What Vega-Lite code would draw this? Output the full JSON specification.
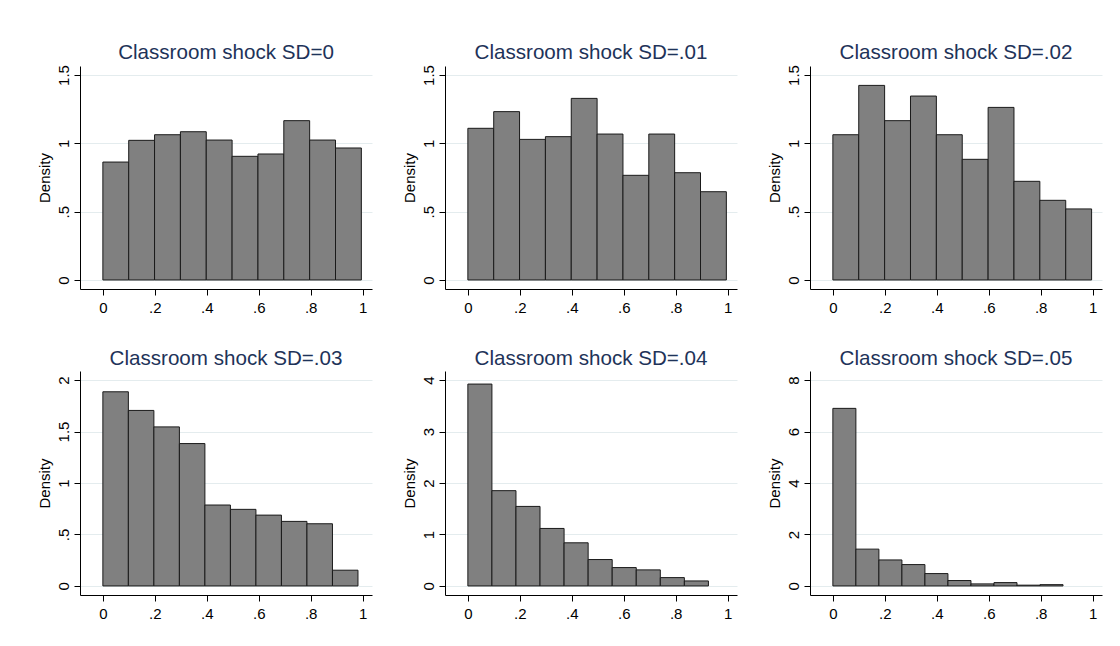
{
  "$schema": "https://vega.github.io/schema/vega-lite/v6.json",
  "background": "white",
  "padding": {"left": 36, "top": 42, "right": 5, "bottom": 5},
  "spacing": {"row": 34, "column": 29},
  "config": {
    "font": "Liberation Sans",
    "view": {"stroke": null},
    "axis": {
      "domainColor": "black", "tickColor": "black", "labelColor": "black",
      "labelFont": "Liberation Sans", "labelFontSize": 15, "titleFont": "Liberation Sans",
      "titleFontSize": 15, "titleFontWeight": "normal", "titleColor": "black",
      "tickSize": 6, "domainWidth": 1, "tickWidth": 1, "grid": false
    },
    "title": {"font": "Liberation Sans", "fontSize": 20.6, "fontWeight": "normal", "color": "#1e3359", "anchor": "middle", "offset": 1}
  },
  "datasets": {
    "h": [
      {"sd": "0", "x0": 0, "x1": 0.0995, "density": 0.863},
      {"sd": "0", "x0": 0.0995, "x1": 0.199, "density": 1.022},
      {"sd": "0", "x0": 0.199, "x1": 0.2985, "density": 1.063},
      {"sd": "0", "x0": 0.2985, "x1": 0.398, "density": 1.085},
      {"sd": "0", "x0": 0.398, "x1": 0.4975, "density": 1.024},
      {"sd": "0", "x0": 0.4975, "x1": 0.597, "density": 0.905},
      {"sd": "0", "x0": 0.597, "x1": 0.6965, "density": 0.922},
      {"sd": "0", "x0": 0.6965, "x1": 0.796, "density": 1.166},
      {"sd": "0", "x0": 0.796, "x1": 0.8955, "density": 1.024},
      {"sd": "0", "x0": 0.8955, "x1": 0.995, "density": 0.966},
      {"sd": "01", "x0": 0, "x1": 0.0995, "density": 1.11},
      {"sd": "01", "x0": 0.0995, "x1": 0.199, "density": 1.232},
      {"sd": "01", "x0": 0.199, "x1": 0.2985, "density": 1.029},
      {"sd": "01", "x0": 0.2985, "x1": 0.398, "density": 1.049},
      {"sd": "01", "x0": 0.398, "x1": 0.4975, "density": 1.329},
      {"sd": "01", "x0": 0.4975, "x1": 0.597, "density": 1.068},
      {"sd": "01", "x0": 0.597, "x1": 0.6965, "density": 0.766},
      {"sd": "01", "x0": 0.6965, "x1": 0.796, "density": 1.068},
      {"sd": "01", "x0": 0.796, "x1": 0.8955, "density": 0.785},
      {"sd": "01", "x0": 0.8955, "x1": 0.995, "density": 0.646},
      {"sd": "02", "x0": 0, "x1": 0.0996, "density": 1.063},
      {"sd": "02", "x0": 0.0996, "x1": 0.1992, "density": 1.424},
      {"sd": "02", "x0": 0.1992, "x1": 0.2988, "density": 1.166},
      {"sd": "02", "x0": 0.2988, "x1": 0.3984, "density": 1.346},
      {"sd": "02", "x0": 0.3984, "x1": 0.498, "density": 1.063},
      {"sd": "02", "x0": 0.498, "x1": 0.5976, "density": 0.883},
      {"sd": "02", "x0": 0.5976, "x1": 0.6972, "density": 1.263},
      {"sd": "02", "x0": 0.6972, "x1": 0.7968, "density": 0.722},
      {"sd": "02", "x0": 0.7968, "x1": 0.8964, "density": 0.583},
      {"sd": "02", "x0": 0.8964, "x1": 0.996, "density": 0.52},
      {"sd": "03", "x0": 0, "x1": 0.0982, "density": 1.886},
      {"sd": "03", "x0": 0.0982, "x1": 0.1964, "density": 1.705},
      {"sd": "03", "x0": 0.1964, "x1": 0.2946, "density": 1.545},
      {"sd": "03", "x0": 0.2946, "x1": 0.3928, "density": 1.383},
      {"sd": "03", "x0": 0.3928, "x1": 0.491, "density": 0.786},
      {"sd": "03", "x0": 0.491, "x1": 0.5892, "density": 0.744},
      {"sd": "03", "x0": 0.5892, "x1": 0.6874, "density": 0.688},
      {"sd": "03", "x0": 0.6874, "x1": 0.7856, "density": 0.627},
      {"sd": "03", "x0": 0.7856, "x1": 0.8838, "density": 0.604},
      {"sd": "03", "x0": 0.8838, "x1": 0.982, "density": 0.153},
      {"sd": "04", "x0": 0, "x1": 0.0926, "density": 3.922},
      {"sd": "04", "x0": 0.0926, "x1": 0.1852, "density": 1.851},
      {"sd": "04", "x0": 0.1852, "x1": 0.2778, "density": 1.545},
      {"sd": "04", "x0": 0.2778, "x1": 0.3704, "density": 1.117},
      {"sd": "04", "x0": 0.3704, "x1": 0.463, "density": 0.838},
      {"sd": "04", "x0": 0.463, "x1": 0.5556, "density": 0.513},
      {"sd": "04", "x0": 0.5556, "x1": 0.6482, "density": 0.357},
      {"sd": "04", "x0": 0.6482, "x1": 0.7408, "density": 0.312},
      {"sd": "04", "x0": 0.7408, "x1": 0.8334, "density": 0.162},
      {"sd": "04", "x0": 0.8334, "x1": 0.926, "density": 0.097},
      {"sd": "05", "x0": 0, "x1": 0.0886, "density": 6.9},
      {"sd": "05", "x0": 0.0886, "x1": 0.1772, "density": 1.43},
      {"sd": "05", "x0": 0.1772, "x1": 0.2658, "density": 1.01},
      {"sd": "05", "x0": 0.2658, "x1": 0.3544, "density": 0.83},
      {"sd": "05", "x0": 0.3544, "x1": 0.443, "density": 0.48},
      {"sd": "05", "x0": 0.443, "x1": 0.5316, "density": 0.21},
      {"sd": "05", "x0": 0.5316, "x1": 0.6202, "density": 0.08},
      {"sd": "05", "x0": 0.6202, "x1": 0.7088, "density": 0.13},
      {"sd": "05", "x0": 0.7088, "x1": 0.7974, "density": 0.03},
      {"sd": "05", "x0": 0.7974, "x1": 0.886, "density": 0.05}
    ]
  },
  "columns": 3,
  "concat": [
    {
      "title": "Classroom shock SD=0", "width": 292, "height": 223,
      "data": {"name": "h"}, "transform": [{"filter": "datum.sd == '0'"}],
      "mark": {"type": "bar", "fill": "#808080", "stroke": "#1a1a1a", "strokeWidth": 1},
      "encoding": {
        "x": {"field": "x0", "type": "quantitative", "scale": {"domain": [-0.088, 1.036], "nice": false, "zero": false}, "axis": {"title": null, "values": [0, 0.2, 0.4, 0.6, 0.8, 1], "labelExpr": "replace(format(datum.value, '~g'), '0.', '.')", "labelPadding": 5}},
        "x2": {"field": "x1"},
        "y": {"field": "density", "type": "quantitative", "scale": {"domain": [-0.066, 1.566], "nice": false, "zero": false}, "axis": {"title": "Density", "values": [0, 0.5, 1, 1.5], "grid": true, "gridColor": "#e4ecee", "labelAngle": -90, "labelAlign": "center", "labelBaseline": "bottom", "labelPadding": 3, "titlePadding": 4, "labelExpr": "replace(format(datum.value, '~g'), '0.', '.')"}},
        "y2": {"datum": 0}
      }
    },
    {
      "title": "Classroom shock SD=.01", "width": 292, "height": 223,
      "data": {"name": "h"}, "transform": [{"filter": "datum.sd == '01'"}],
      "mark": {"type": "bar", "fill": "#808080", "stroke": "#1a1a1a", "strokeWidth": 1},
      "encoding": {
        "x": {"field": "x0", "type": "quantitative", "scale": {"domain": [-0.088, 1.036], "nice": false, "zero": false}, "axis": {"title": null, "values": [0, 0.2, 0.4, 0.6, 0.8, 1], "labelExpr": "replace(format(datum.value, '~g'), '0.', '.')", "labelPadding": 5}},
        "x2": {"field": "x1"},
        "y": {"field": "density", "type": "quantitative", "scale": {"domain": [-0.066, 1.566], "nice": false, "zero": false}, "axis": {"title": "Density", "values": [0, 0.5, 1, 1.5], "grid": true, "gridColor": "#e4ecee", "labelAngle": -90, "labelAlign": "center", "labelBaseline": "bottom", "labelPadding": 3, "titlePadding": 4, "labelExpr": "replace(format(datum.value, '~g'), '0.', '.')"}},
        "y2": {"datum": 0}
      }
    },
    {
      "title": "Classroom shock SD=.02", "width": 292, "height": 223,
      "data": {"name": "h"}, "transform": [{"filter": "datum.sd == '02'"}],
      "mark": {"type": "bar", "fill": "#808080", "stroke": "#1a1a1a", "strokeWidth": 1},
      "encoding": {
        "x": {"field": "x0", "type": "quantitative", "scale": {"domain": [-0.088, 1.036], "nice": false, "zero": false}, "axis": {"title": null, "values": [0, 0.2, 0.4, 0.6, 0.8, 1], "labelExpr": "replace(format(datum.value, '~g'), '0.', '.')", "labelPadding": 5}},
        "x2": {"field": "x1"},
        "y": {"field": "density", "type": "quantitative", "scale": {"domain": [-0.066, 1.566], "nice": false, "zero": false}, "axis": {"title": "Density", "values": [0, 0.5, 1, 1.5], "grid": true, "gridColor": "#e4ecee", "labelAngle": -90, "labelAlign": "center", "labelBaseline": "bottom", "labelPadding": 3, "titlePadding": 4, "labelExpr": "replace(format(datum.value, '~g'), '0.', '.')"}},
        "y2": {"datum": 0}
      }
    },
    {
      "title": "Classroom shock SD=.03", "width": 292, "height": 224,
      "data": {"name": "h"}, "transform": [{"filter": "datum.sd == '03'"}],
      "mark": {"type": "bar", "fill": "#808080", "stroke": "#1a1a1a", "strokeWidth": 1},
      "encoding": {
        "x": {"field": "x0", "type": "quantitative", "scale": {"domain": [-0.088, 1.036], "nice": false, "zero": false}, "axis": {"title": null, "values": [0, 0.2, 0.4, 0.6, 0.8, 1], "labelExpr": "replace(format(datum.value, '~g'), '0.', '.')", "labelPadding": 5}},
        "x2": {"field": "x1"},
        "y": {"field": "density", "type": "quantitative", "scale": {"domain": [-0.088, 2.088], "nice": false, "zero": false}, "axis": {"title": "Density", "values": [0, 0.5, 1, 1.5, 2], "grid": true, "gridColor": "#e4ecee", "labelAngle": -90, "labelAlign": "center", "labelBaseline": "bottom", "labelPadding": 3, "titlePadding": 4, "labelExpr": "replace(format(datum.value, '~g'), '0.', '.')"}},
        "y2": {"datum": 0}
      }
    },
    {
      "title": "Classroom shock SD=.04", "width": 292, "height": 224,
      "data": {"name": "h"}, "transform": [{"filter": "datum.sd == '04'"}],
      "mark": {"type": "bar", "fill": "#808080", "stroke": "#1a1a1a", "strokeWidth": 1},
      "encoding": {
        "x": {"field": "x0", "type": "quantitative", "scale": {"domain": [-0.088, 1.036], "nice": false, "zero": false}, "axis": {"title": null, "values": [0, 0.2, 0.4, 0.6, 0.8, 1], "labelExpr": "replace(format(datum.value, '~g'), '0.', '.')", "labelPadding": 5}},
        "x2": {"field": "x1"},
        "y": {"field": "density", "type": "quantitative", "scale": {"domain": [-0.176, 4.176], "nice": false, "zero": false}, "axis": {"title": "Density", "values": [0, 1, 2, 3, 4], "grid": true, "gridColor": "#e4ecee", "labelAngle": -90, "labelAlign": "center", "labelBaseline": "bottom", "labelPadding": 3, "titlePadding": 4, "labelExpr": "format(datum.value, '~g')"}},
        "y2": {"datum": 0}
      }
    },
    {
      "title": "Classroom shock SD=.05", "width": 292, "height": 224,
      "data": {"name": "h"}, "transform": [{"filter": "datum.sd == '05'"}],
      "mark": {"type": "bar", "fill": "#808080", "stroke": "#1a1a1a", "strokeWidth": 1},
      "encoding": {
        "x": {"field": "x0", "type": "quantitative", "scale": {"domain": [-0.088, 1.036], "nice": false, "zero": false}, "axis": {"title": null, "values": [0, 0.2, 0.4, 0.6, 0.8, 1], "labelExpr": "replace(format(datum.value, '~g'), '0.', '.')", "labelPadding": 5}},
        "x2": {"field": "x1"},
        "y": {"field": "density", "type": "quantitative", "scale": {"domain": [-0.352, 8.352], "nice": false, "zero": false}, "axis": {"title": "Density", "values": [0, 2, 4, 6, 8], "grid": true, "gridColor": "#e4ecee", "labelAngle": -90, "labelAlign": "center", "labelBaseline": "bottom", "labelPadding": 3, "titlePadding": 4, "labelExpr": "format(datum.value, '~g')"}},
        "y2": {"datum": 0}
      }
    }
  ]
}
